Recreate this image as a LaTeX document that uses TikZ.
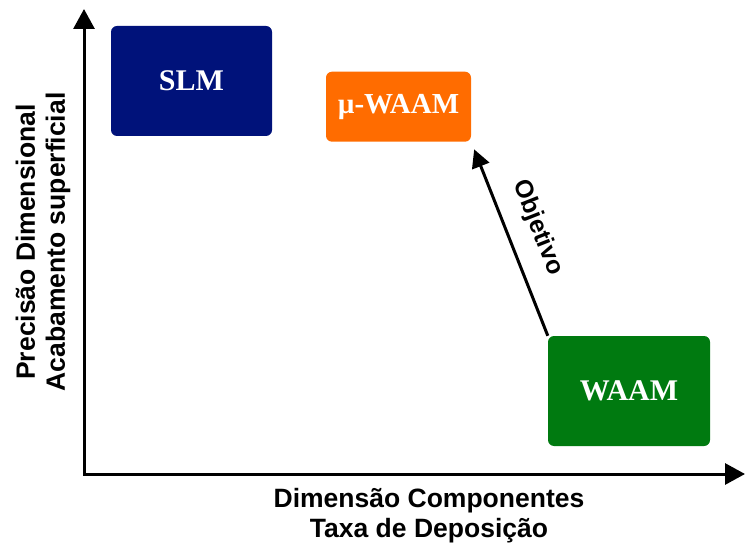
\documentclass[tikz,border=0pt]{standalone}
\usepackage{fontspec}
\setmainfont{Liberation Serif}
\setsansfont{Liberation Sans}
\usetikzlibrary{arrows.meta}
\definecolor{slmblue}{RGB}{0,18,122}
\definecolor{muorange}{RGB}{255,108,0}
\definecolor{waamgreen}{RGB}{0,122,16}

\begin{document}
\begin{tikzpicture}[x=1pt,y=1pt]
\tikzstyle{proc}=[rectangle,rounded corners=6pt,inner sep=0pt,text=white,font=\bfseries\fontsize{30}{36}\selectfont]
\tikzstyle{axis}=[line width=3pt]
\tikzstyle{axislabel}=[font=\sffamily\bfseries\fontsize{26.5}{30}\selectfont,align=center]
\useasboundingbox (0,0) rectangle (746,552);

% Axes
\coordinate (O) at (84,78);
\coordinate (Ytop) at (84,543);
\coordinate (Xend) at (745,78);
\draw[axis,{Triangle[length=20pt,width=21pt]}-{Triangle[length=20pt,width=21pt]}] (Ytop) -- (O) -- (Xend);

% Processes
\node (SLM) [proc,fill=slmblue,minimum width=161pt,minimum height=110pt] at (191.5,471) {SLM};
\node (MW) [proc,fill=muorange,minimum width=145pt,minimum height=70pt,font=\bfseries\fontsize{29}{34}\selectfont] at (398.5,445.3) {µ-WAAM};
\node (WAAM) [proc,fill=waamgreen,minimum width=162pt,minimum height=110pt] at (629,161) {WAAM};

% Goal
\draw[line width=3pt,-{Triangle[length=18pt,width=18pt]},shorten >=8pt] (WAAM.north west) -- (MW.south east) node[midway,sloped,above=14pt,font=\sffamily\bfseries\fontsize{25}{30}\selectfont]{Objetivo};

% Axis labels
\node (xlab) [axislabel] at (429,36) {Dimensão Componentes\\Taxa de Deposição};
\node (ylab) [axislabel,rotate=90] at (43,310) {Precisão Dimensional\\Acabamento superficial};

\end{tikzpicture}
\end{document}
